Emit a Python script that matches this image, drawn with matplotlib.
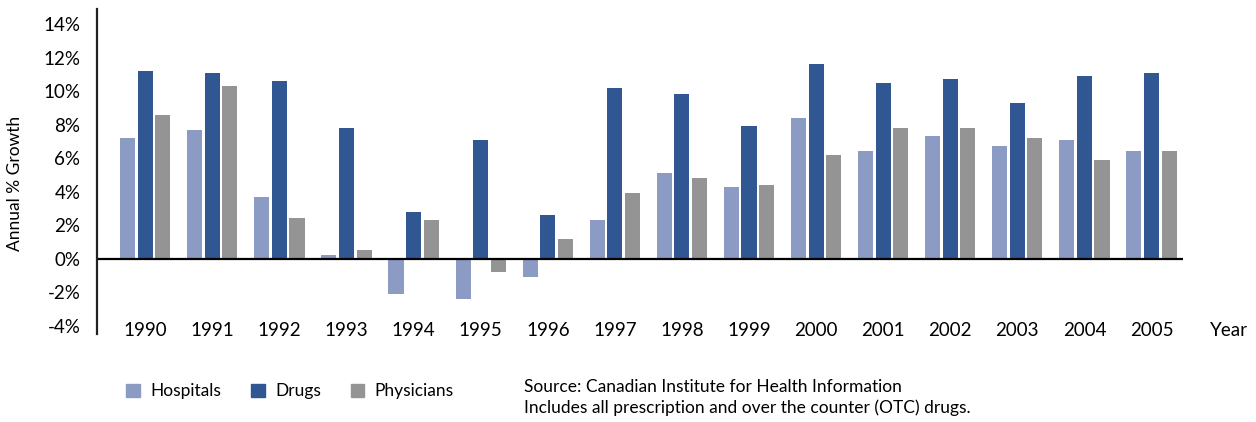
import numpy as np
import matplotlib.pyplot as plt
import matplotlib.transforms as mtransforms
from matplotlib.patches import Patch

plt.rcParams['font.family'] = ['Lato', 'DejaVu Sans']

# 数据
years = list(range(1990, 2006))
hospitals = [7.2, 7.7, 3.7, 0.2, -2.1, -2.4, -1.1, 2.3, 5.1, 4.3, 8.4, 6.4, 7.3, 6.7, 7.1, 6.4]
drugs = [11.2, 11.1, 10.6, 7.8, 2.8, 7.1, 2.6, 10.2, 9.8, 7.9, 11.6, 10.5, 10.7, 9.3, 10.9, 11.1]
physicians = [8.6, 10.3, 2.4, 0.5, 2.3, -0.8, 1.2, 3.9, 4.8, 4.4, 6.2, 7.8, 7.8, 7.2, 5.9, 6.4]
yticks = [-4, -2, 0, 2, 4, 6, 8, 10, 12, 14]

c_h = '#8c9bc3'
c_d = '#305792'
c_p = '#949494'

fig = plt.figure(figsize=(12.56, 4.22), dpi=100)
ax = fig.add_axes([0.0772, 0.2085, 0.8647, 0.7702])

x = np.array(years)
w = 0.225
off = 0.262
ax.bar(x - off, hospitals, w, color=c_h)
ax.bar(x, drugs, w, color=c_d)
ax.bar(x + off, physicians, w, color=c_p)

ax.axhline(0, color='black', lw=1.6)
ax.set_xlim(1989.28, 2005.47)
ax.set_ylim(-4.5, 14.9)

for s in ['top', 'right', 'bottom']:
    ax.spines[s].set_visible(False)
ax.spines['left'].set_linewidth(1.6)
ax.spines['left'].set_color('#222222')

ax.set_yticks(yticks)
ax.set_yticklabels(['%d%%' % v for v in yticks], fontsize=13.5)
ax.tick_params(axis='y', length=0, pad=12)
ax.set_xticks([])

# 年份标签放在轴内底部
trans = mtransforms.blended_transform_factory(ax.transData, ax.transAxes)
for yr in years:
    ax.text(yr, 0.012, str(yr), transform=trans, ha='center', va='center', fontsize=13.5)

fig.text(0.963, 1 - 331 / 422, 'Year', ha='left', va='center', fontsize=13.5)
fig.text(0.012, 1 - 183 / 422, 'Annual % Growth', rotation=90, ha='center', va='center', fontsize=12.5)

handles = [Patch(color=c_h, label='Hospitals'),
           Patch(color=c_d, label='Drugs'),
           Patch(color=c_p, label='Physicians')]
fig.legend(handles=handles, loc='center left', bbox_to_anchor=(0.088, 0.073), ncol=3,
           frameon=False, fontsize=12.5, handlelength=0.8, handleheight=0.8,
           handletextpad=0.6, columnspacing=1.7)

fig.text(0.417, 1 - 379 / 422,
         'Source: Canadian Institute for Health Information\n'
         'Includes all prescription and over the counter (OTC) drugs.',
         ha='left', va='top', fontsize=12.5, linespacing=1.3)

fig.savefig('out.png', dpi=100)
